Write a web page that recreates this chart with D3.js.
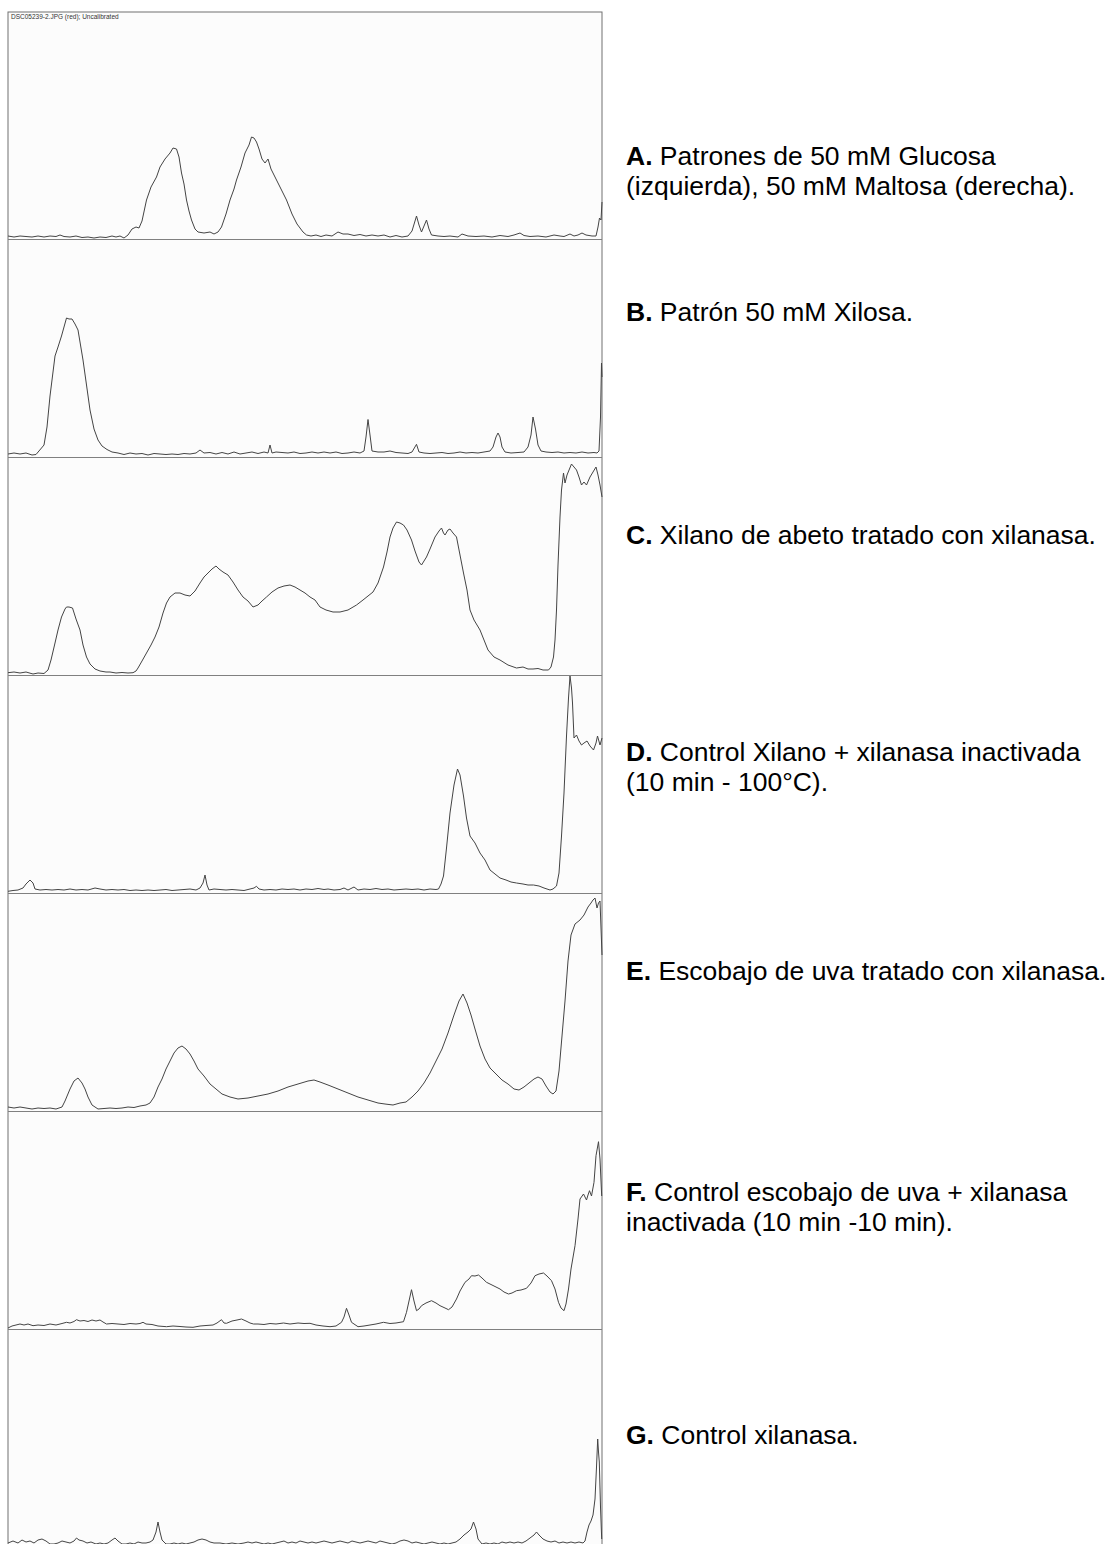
<!DOCTYPE html>
<html><head><meta charset="utf-8">
<script src="https://cdn.jsdelivr.net/npm/d3@7"></script>
<style>html,body{margin:0;padding:0;background:#fff;}</style>
</head><body>
<div id="chart"></div>
<script>
// ---- DATA: lane position (0..594) vs. intensity (0..218) ----
const headerText = "DSC05239-2.JPG (red); Uncalibrated";
const panelLetters = ["A.", "B.", "C.", "D.", "E.", "F.", "G."];
const panelLabels = [
  ["Patrones de 50 mM Glucosa", "(izquierda), 50 mM Maltosa (derecha)."],
  ["Patrón 50 mM Xilosa."],
  ["Xilano de abeto tratado con xilanasa."],
  ["Control Xilano + xilanasa inactivada", "(10 min - 100°C)."],
  ["Escobajo de uva tratado con xilanasa."],
  ["Control escobajo de uva + xilanasa", "inactivada (10 min -10 min)."],
  ["Control xilanasa."]
];
const traceA = [[0,3],[6,2],[12,3],[18,2.5],[24,2],[30,3],[36,2],[42,3],[48,2.5],[52,4],[56,2.5],[62,2],[68,3],[74,1.5],[80,2],[86,1],[92,2],[98,1.5],[104,3],[108,2],[112,3],[116,1],[120,4],[124,10],[128,12],[131,11],[134,18],[138.5,39],[143,52],[148.5,62],[152,72],[157,80],[162,86],[165,91],[168.5,90],[171,82],[173.5,66],[176,55],[178.5,39],[181,28],[183.5,19],[187,10],[190,7],[196,6],[202,7],[206,5],[210,7],[213.5,12],[218,25],[222,39],[226,50],[228.5,59],[233,72],[237,86],[241,94],[243.5,102],[246,101],[248.5,97],[251,90],[254,80],[257,76],[260,80],[263,70],[267,62],[272,52],[278.5,39],[284,25],[289,15],[292,11],[295,7],[298.5,4],[303,3],[308,4],[313,2.5],[318,4],[324,3],[330,7],[335,5],[340,5],[346,3.5],[352,4.5],[358,3],[364,4],[370,3],[376,4],[382,2],[388,3.5],[394,2],[400,3],[404,8],[408.5,23],[411,14],[413.5,7],[416,13],[418.5,19],[421,10],[423.5,4],[430,3],[436,2.5],[442,3],[450,2],[454,5],[460,3],[468,2.5],[476,3],[484,2],[492,3.5],[500,2.5],[506,4],[512,6],[516,3.5],[522,2.5],[530,3],[538,2],[546,4],[552,3],[556,2.5],[562,5],[566,3],[570,4],[574,6],[578,4],[584,3],[588,3],[590,12],[591.5,21],[593,19],[594,37]];
const traceB = [[0,3],[6,4],[12,3],[18,4],[24,2],[28,2.5],[33.5,9],[36,12],[39,30],[42,61],[45,85],[47,101],[50,110],[53.5,121],[56,130],[58.5,139],[61,138],[64,138],[67,133],[70,127],[72.5,112],[75,97],[78.5,72],[82,47],[86,28],[90,17],[94,11],[99,7.5],[104,5],[110,4],[116,2.5],[122,4],[128,3],[134,3.5],[140,2],[146,3.5],[152,3],[158,2.5],[164,3],[170,2.5],[176,3.5],[182,3],[188,4],[192,7],[196,4],[202,4.5],[208,3],[214,4.5],[220,3],[226,5],[232,3],[238,4],[244,5],[250,3.5],[256,5],[260,4],[262,12],[264,4],[268,5],[274,4.5],[280,4],[286,5],[292,3.5],[298,4],[304,5],[310,4],[316,5],[322,4],[328,5],[334,3.5],[340,4],[346,5],[352,4],[356,6],[358,20],[360,37.5],[362,22],[364,6],[370,5],[376,5],[382,6],[388,4.5],[394,4],[400,3.5],[404,5],[408.5,12.7],[411,5],[416,4],[422,3.5],[428,4],[434,4.5],[440,3.5],[446,4],[452,5],[458,4],[464,4.5],[470,4],[476,5],[482,6],[485,10],[488,20],[490,24],[492,20],[494,10],[497,5],[503,4],[510,4.5],[516,5],[520,10],[523,22],[525,40],[527.5,28],[530,12],[533,6],[538,5],[544,4.5],[550,5],[556,4],[562,4.5],[568,4],[574,5],[580,4],[586,4.5],[589,4],[591,6],[592.5,40],[593.5,94],[594,80]];
const traceC = [[0,2.3],[6,3],[12,2],[18,3],[25,1],[30,2],[36,1.5],[40,5],[43,15],[47,32],[50,45],[53.5,58],[57,66],[58.5,68],[61,68],[64.5,67],[68,56],[72,45],[75,30],[78.5,18],[82,11],[87,6],[92,4],[98,3],[102,3],[108,2],[114,2.5],[120,2],[125,2.3],[128,4],[130,7],[134,14],[138.5,22],[143,30],[147,38],[151,48],[155,62],[158.5,72],[162,78],[167,82],[172,82],[177,80],[182,79],[187,84],[192,92],[196,98],[200,102],[204,106],[208,109],[211,106],[215,103],[220,100],[225,93],[230,85],[235,78],[240,74],[245,68],[250,70],[254,74],[258.5,78],[264,83],[270,87],[276,89],[282,90],[287,88],[292,85],[297,82],[302,78],[307,75],[312,68],[318,65],[325,63],[332,63],[340,65],[348.5,70],[355,75],[360,79],[365,83],[370,92],[375.5,108],[379,123],[382,138],[385,147],[388.5,153],[392,152],[395.5,150],[399,145],[403.5,135],[407,124],[411,113],[413.5,110],[416,114],[418.5,118],[422,126],[427,138],[431,144],[433.5,147],[435.5,142],[437,140],[440,145],[442,146],[445,142],[448.5,138],[452,120],[455.5,102],[459,85],[462,65],[466,55],[472,45],[476,35],[480,25],[486,18],[492,15],[500,10],[508.5,7],[515,8],[520,6],[525,6],[530,6.5],[535,5],[540.5,5],[543,8],[545.5,18],[547,35],[548.5,65],[550,110],[552,158],[553.5,185],[555.5,202],[557,192],[559,200],[563.5,211],[566,208],[568.5,205],[571,198],[573.5,190],[576,193],[578.5,190],[582,198],[585,203],[588,208],[590,200],[592,190],[594,178]];
const traceD = [[0,1.7],[5,2.5],[10,3],[15,5],[18,9],[22,13],[25,10],[27,4],[32,3],[38,3.5],[44,3],[50,3.5],[56,3],[62,4],[68,3],[74,3.5],[80,3],[87,5],[92,4],[98,3],[104,3.5],[110,3],[116,3.5],[122,2.5],[128,3],[134,2.5],[140,3],[146,2.5],[152,3],[158,3.5],[164,2.5],[170,3],[176,3.5],[182,4],[188,3],[192,5],[195,10],[197,18],[199,8],[201,3],[206,4],[212,3.5],[218,3],[224,3.5],[230,3],[236,2.5],[242,4],[246,5],[248.5,6.7],[251,4],[256,3],[262,3.5],[268,3],[274,4],[280,3.5],[286,4],[292,3],[298,4],[304,3.5],[310,4.5],[316,3.5],[320,4],[326,3],[332,3.5],[336,5],[340,3],[346,6],[350,3],[356,4],[362,3.5],[368,4.5],[374,3.5],[380,4],[386,3],[392,3.5],[398,4],[404,3.5],[410,4],[416,3],[422,4],[428,3.5],[430.5,4],[433,9],[435.5,17],[438.5,45],[442,80],[446,108],[449.5,124],[452,118],[455.5,97],[458.5,75],[462,57],[467,50],[472,40],[477,33],[482,23],[487,19],[492,15],[498,13],[503,11],[508.5,10],[515,9],[520,8],[525.5,8],[531,7],[536,5],[542,3],[545,4],[548.5,7],[551,20],[553.5,57],[556,100],[558.5,157],[560.5,195],[562,217],[563.5,205],[564.5,190],[566,155],[568.5,158],[571,152],[573.5,148],[576,150],[579,152],[582,147],[585.5,143],[588,150],[589.5,157],[592,148],[594,155]];
const traceE = [[0,4],[6,3],[12,4],[18,3],[24,2],[30,3],[36,2.5],[42,3],[48,2],[54,4],[57,10],[62,22],[66,30],[70,33],[74,28],[77,22],[80,14],[84,6],[90,2],[96,2.5],[102,3],[108,2.5],[114,3],[120,4],[126,3.5],[132,5],[138,6],[142,8],[146,14],[150,24],[154,32],[158,42],[162,50],[166,58],[170,63],[174,65],[178,62],[182,57],[186,50],[190,42],[196,35],[202,27],[208,22],[214,17],[222,14],[230,12],[240,13],[250,15],[260,17],[270,20],[280,24],[290,27],[300,30],[306,31],[312,29],[320,26],[330,22],[340,18],[350,14],[360,11],[370,8],[377,7],[385,6],[392,8],[398,9],[404,14],[410,20],[416,28],[422,38],[428,50],[434,62],[440,78],[446,96],[451,110],[455,117],[459,108],[463,96],[467,82],[472,65],[477,52],[482,43],[488,37],[494,31],[500,27],[506,22],[511,21],[516,24],[521,28],[526,32],[530,34],[534,32],[538,25],[542,19],[545,17],[548,20],[551,40],[554,75],[557,110],[560,150],[563,176],[567,187],[572,191],[576,196],[580,204],[583,208],[585,211],[587,213],[589,203],[590.5,208],[592,210],[594,156]];
const traceF = [[0,1],[4,3],[8,4],[12,5],[16,4],[20,5],[25,3.3],[30,4],[36,3.5],[42,5],[48,4],[54,5.5],[58.5,6.7],[62,6],[66,7.5],[68.5,9.3],[72,8],[76,8.5],[80,7.5],[84,9],[88,8],[92,9],[95,7],[98.5,5],[104,5.5],[110,5],[116,4.5],[122,5.5],[128,5],[132,5.5],[135,6.7],[138,5],[144,4.5],[150,3],[158.5,2.3],[165,3],[172,2.5],[178,2],[185,1.7],[192,3],[198,3.5],[205,4],[209,6],[213.5,9.3],[216,6],[218.5,5.7],[224,8],[229,9],[233.5,10],[238,8],[242,6],[245.5,5],[250,5],[256,4.5],[262,5.5],[268,5],[275.5,6],[282,5],[290,6],[296,5.5],[302,5.7],[308,4],[315,3],[322,2.3],[328,3],[333.5,6.7],[336,12],[338.5,20.7],[341,14],[343.5,6.7],[350,2.3],[356,3],[362,4],[368,5],[375.5,6.7],[382,5.5],[388,6],[395.5,7.3],[398.5,16.7],[401,28],[403.5,39.3],[406,28],[408.5,18.3],[411,20],[413.5,23.3],[418,26],[423.5,28.3],[428,26],[432,23.3],[437,21],[440.5,19.3],[444,22],[448.5,30],[452,38],[457,46.7],[461,50],[463.5,53.3],[467,53],[470.5,54],[474,51],[478.5,46.7],[484,44],[492,40],[496,37],[500.5,35],[504,36],[508.5,38.3],[513,39],[518.5,40.7],[523,46],[527,53.3],[531,55],[535.5,56],[539,53],[543.5,48.3],[547,40],[550.5,26.7],[553,21],[556,18.3],[558,25],[560.5,40],[563,60],[567,83.3],[570,110],[572,130],[575.5,135],[578.5,129],[580,134],[581.5,138.3],[583.5,133],[586,146.7],[588,173.3],[590.5,187.3],[592,170],[593.7,133]];
const traceG = [[0,4],[5,6],[10,4],[14,7],[18,5],[22,6],[26,4],[30,7],[34,8],[38,6],[42,3],[46,3],[50,4],[54,6],[58,5],[62,4],[66,6],[68.5,9],[71,7],[75,6],[79,4],[83,5],[88,3],[92,4],[96,3],[100,4],[104,7],[107,9],[110,6],[114,3],[118,3],[122,4],[126,3],[130,5],[134,4],[138,4],[142,5],[145,7],[148,15],[150,25],[152,15],[154,7],[158,3],[162,3],[166,4],[170,3],[174,4],[178,3],[182,4],[186,5],[190,7],[194,8],[198,7],[202,5],[206,4],[212,4],[218,3],[224,4],[230,3],[236,4],[240,5],[244,4],[248,5],[252,4],[256,3],[260,4],[264,3],[268,4],[272,5],[276,6],[280,4],[284,5],[288,4],[292,6],[296,5],[300,4],[304,5],[308,4],[312,5],[316,6],[320,5],[324,4],[328,5],[332,6],[336,5],[340,4],[344,6],[348,5],[352,4],[356,5],[360,6],[364,5],[368,4],[372,6],[376,5],[380,4],[384,3],[388,4],[392,6],[396,7],[400,6],[404,4],[408,5],[412,4],[416,3],[420,4],[424,5],[428,4],[432,3],[436,4],[440,3],[444,4],[448,5],[452,8],[456,12],[460,15],[463,18],[465.5,25],[468,18],[470,8],[474,3],[478,4],[482,3],[486,4],[490,3],[494,5],[498,4],[502,5],[506,4],[510,5],[514,4],[518,6],[522,9],[526,12],[528.5,15],[531,12],[535,8],[539,6],[543,5],[547,6],[551,4],[555,5],[559,4],[563,5],[567,4],[571,5],[575,4],[577,6],[579,15],[581,22],[583,26],[585,32],[587,48],[588.5,80],[589.7,108],[590.5,95],[591.3,85],[592.5,40],[593.7,8]];
const traces = [traceA, traceB, traceC, traceD, traceE, traceF, traceG];

// ---- LAYOUT ----
const W = 1115, H = 1544;
const boxLeft = 8, boxRight = 602, boxTop = 12;
const firstTop = 21, panelH = 218;
const labelX = 626, fontSize = 26.5, lineGap = 30;
const labelCenters = [171, 312, 535, 767, 971, 1207, 1435];

const svg = d3.select("#chart").append("svg")
  .attr("width", W).attr("height", H)
  .style("font-family", "Arial, 'Liberation Sans', sans-serif");

svg.append("rect").attr("x", 0).attr("y", 0).attr("width", W).attr("height", H).attr("fill", "#fff");
svg.append("rect").attr("x", boxLeft).attr("y", boxTop)
  .attr("width", boxRight - boxLeft).attr("height", H - boxTop + 10)
  .attr("fill", "#fcfcfc").attr("stroke", "#707070").attr("stroke-width", 1);

svg.append("text").attr("x", boxLeft + 3).attr("y", boxTop + 6.5)
  .attr("font-size", 6.5).attr("fill", "#333").text(headerText);

const x = d3.scaleLinear().domain([0, 594]).range([boxLeft, boxRight]);

traces.forEach((tr, i) => {
  const base = firstTop + (i + 1) * panelH;
  const y = d3.scaleLinear().domain([0, 218]).range([base, base - panelH]);
  const g = svg.append("g");
  g.append("line").attr("x1", boxLeft).attr("x2", boxRight)
    .attr("y1", base + 0.5).attr("y2", base + 0.5)
    .attr("stroke", "#808080").attr("stroke-width", 1.2);
  g.append("path").datum(tr)
    .attr("d", d3.line().x(d => x(d[0])).y(d => y(d[1])))
    .attr("fill", "none").attr("stroke", "#444").attr("stroke-width", 1);

  const lines = panelLabels[i];
  const c = labelCenters[i];
  const startY = c - (lines.length - 1) * lineGap / 2 + fontSize * 0.35;
  lines.forEach((ln, j) => {
    const t = svg.append("text").attr("x", labelX).attr("y", startY + j * lineGap)
      .attr("font-size", fontSize).attr("fill", "#000");
    if (j === 0) {
      t.append("tspan").attr("font-weight", "bold").text(panelLetters[i]);
      t.append("tspan").text(" " + ln);
    } else {
      t.text(ln);
    }
  });
});
</script>
</body></html>
